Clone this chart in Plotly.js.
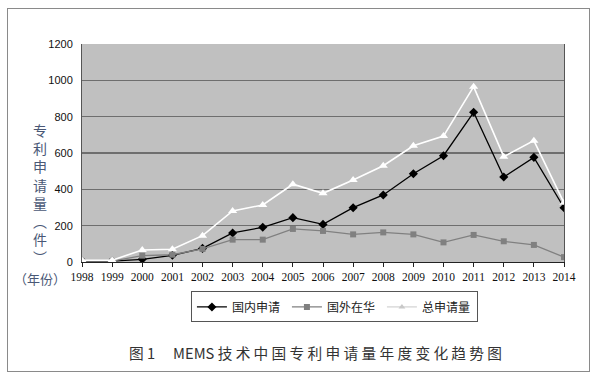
<!DOCTYPE html>
<html><head><meta charset="utf-8">
<script src="https://cdn.plot.ly/plotly-3.0.1.min.js"></script>
<style>
html,body{margin:0;padding:0;background:#fff;}
#wrap{position:relative;width:600px;height:381px;}
#frame{position:absolute;left:7px;top:8px;width:583px;height:364px;border:1px solid #8a8a8a;box-sizing:border-box;pointer-events:none;}
#chart{position:absolute;left:0;top:0;width:600px;height:381px;}
</style></head>
<body><div id="wrap"><div id="chart"></div><div id="frame"></div></div>
<script>
const years = ['1998','1999','2000','2001','2002','2003','2004','2005','2006','2007','2008','2009','2010','2011','2012','2013','2014'];
const domestic = [5,5,15,37,75,160,191,244,207,299,369,486,585,824,468,576,299];
const foreign = [5,5,35,40,72,123,123,182,171,152,163,152,108,149,114,94,27];
const total = [10,10,66,70,145,281,314,428,378,451,530,640,693,965,580,668,326];
const seriesNames = ['国内申请','国外在华','总申请量'];
const yTicks = [0,200,400,600,800,1000,1200];

const traces = [
 // light-gray copy of the total series: gives the legend its visible key, hidden under the white line
 {x:years,y:total,name:seriesNames[2],type:'scatter',mode:'lines+markers',legendrank:3,
  line:{color:'#c8c8c8',width:1},marker:{symbol:'triangle-up',size:6,color:'#c8c8c8'}},
 {x:years,y:domestic,name:seriesNames[0],type:'scatter',mode:'lines+markers',legendrank:1,
  line:{color:'#000',width:1.3},marker:{symbol:'diamond',size:7,color:'#000'}},
 {x:years,y:foreign,name:seriesNames[1],type:'scatter',mode:'lines+markers',legendrank:2,
  line:{color:'#808080',width:1.3},marker:{symbol:'square',size:6,color:'#808080'}},
 {x:years,y:total,name:seriesNames[2],type:'scatter',mode:'lines+markers',showlegend:false,
  line:{color:'#ffffff',width:1.6},marker:{symbol:'triangle-up',size:8,color:'#ffffff'}}
];
const serif = '"Liberation Serif","DejaVu Serif",serif';
const cjk = '"Noto Sans CJK SC",sans-serif';
const layout = {
 width:600,height:381,
 margin:{l:82,r:36,t:44,b:119},
 paper_bgcolor:'#fff',plot_bgcolor:'#c0c0c0',
 showlegend:true,
 xaxis:{type:'category',range:[0,16],showgrid:false,zeroline:false,
  showline:true,linecolor:'#222',linewidth:1,mirror:false,
  ticks:'outside',ticklen:4,tickcolor:'#222',
  tickfont:{family:serif,size:11.5,color:'#111'}},
 yaxis:{range:[0,1200],tickvals:yTicks,showgrid:true,gridcolor:'#6e6e6e',gridwidth:1.2,
  zeroline:false,showline:true,linecolor:'#555',linewidth:1,mirror:true,ticks:'',
  tickfont:{family:'"Liberation Sans",Arial,sans-serif',size:11,color:'#111'},ticklabelstandoff:6},
 legend:{orientation:'h',x:0.226,xanchor:'left',y:-0.135,yanchor:'top',
  bordercolor:'#555',borderwidth:1,bgcolor:'#fff',
  font:{family:cjk,size:12,color:'#222'},itemwidth:30,entrywidth:50,entrywidthmode:'pixels',
  tracegroupgap:0},
 annotations:[
  {text:'专<br>利<br>申<br>请<br>量<br>︵<br>件<br>︶',xref:'paper',yref:'paper',
   x:(40-82)/482,y:(262-118)/218,xanchor:'center',yanchor:'top',showarrow:false,
   font:{family:cjk,size:14,color:'#4a5876'}},
  {text:'（年份）',xref:'paper',yref:'paper',x:(40-82)/482,y:(262-278)/218,
   xanchor:'center',yanchor:'middle',showarrow:false,font:{family:cjk,size:13,color:'#4a5876'}},
  {text:'图 1　 MEMS 技 术 中 国 专 利 申 请 量 年 度 变 化 趋 势 图',xref:'paper',yref:'paper',
   x:(315-82)/482,y:(262-352)/218,xanchor:'center',yanchor:'middle',showarrow:false,
   font:{family:cjk,size:14.7,color:'#333'}}
 ]
};
Plotly.newPlot('chart',traces,layout,{displayModeBar:false,staticPlot:true});
</script></body></html>
